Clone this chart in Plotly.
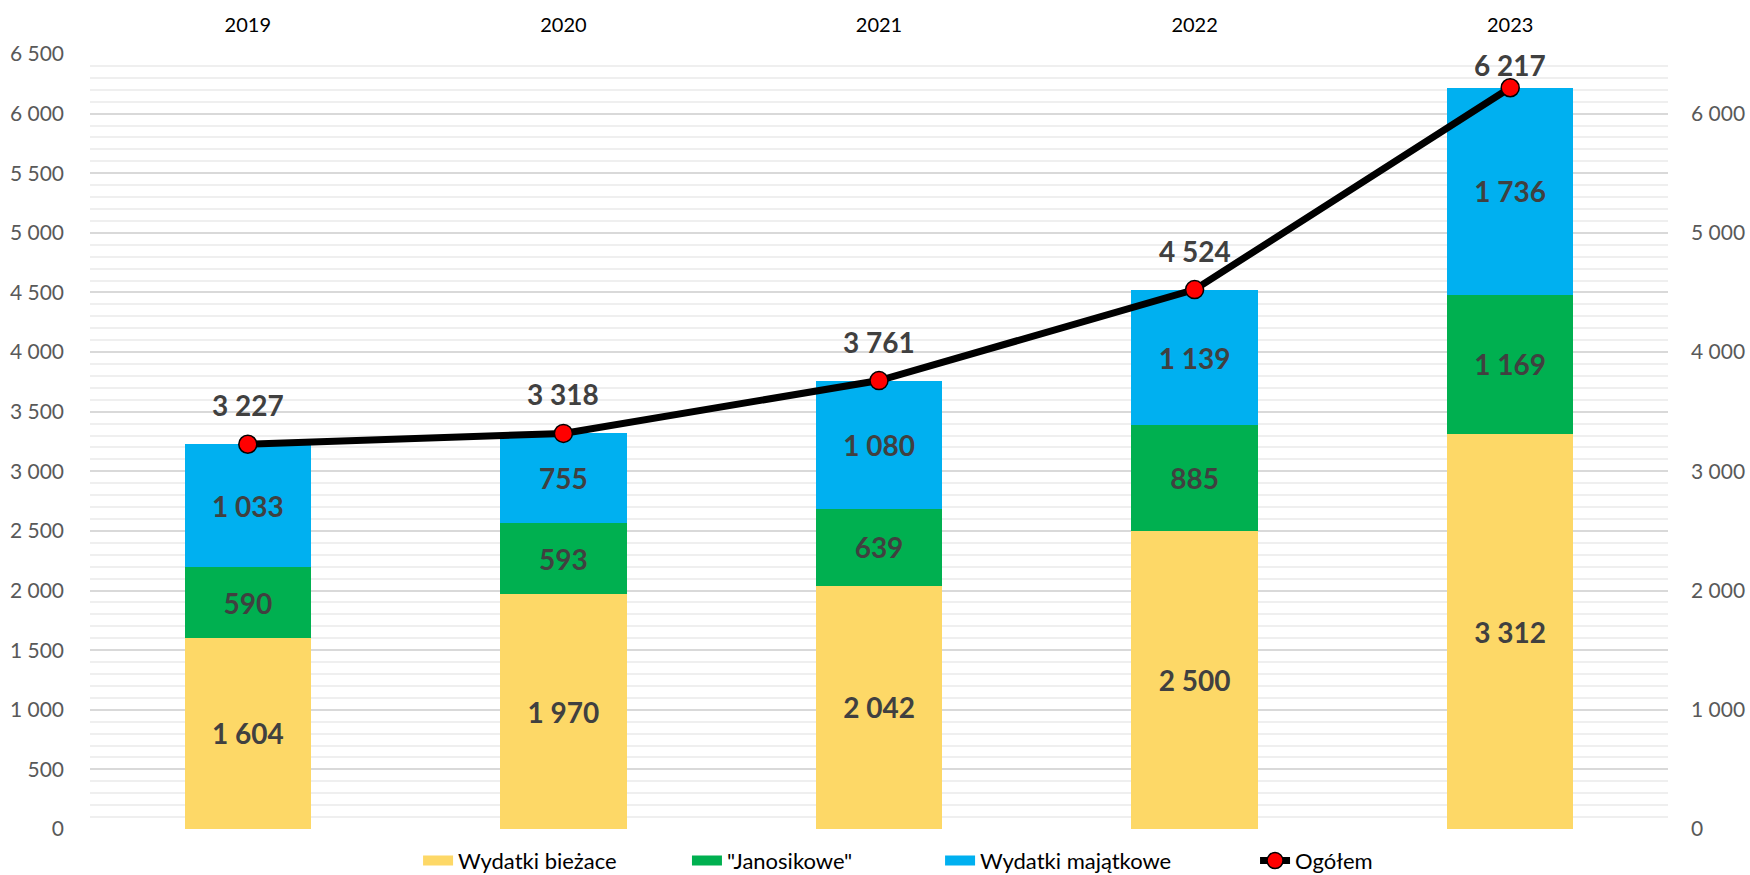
import plotly.graph_objects as go

years = ["2019", "2020", "2021", "2022", "2023"]
biezace = [1604, 1970, 2042, 2500, 3312]
janosikowe = [590, 593, 639, 885, 1169]
majatkowe = [1033, 755, 1080, 1139, 1736]
ogolem = [3227, 3318, 3761, 4524, 6217]

left_ticks = list(range(0, 6501, 500))
right_ticks = list(range(0, 6001, 1000))

FONT = "Lato"
LBL = dict(family=FONT, size=28, color="#404040", weight="bold")
YMAX = 6500
PLOT_H = 775  # plot area height in px

fig = go.Figure()

series = [
    ("Wydatki bieżace", biezace, "#FDD867", "legend"),
    ("\"Janosikowe\"", janosikowe, "#00B050", "legend2"),
    ("Wydatki majątkowe", majatkowe, "#00B0F0", "legend3"),
]

for name, vals, color, _ in series:
    fig.add_trace(go.Bar(
        x=years, y=vals, name=name, showlegend=False,
        marker=dict(color=color, line=dict(width=0)),
        texttemplate="%{y:,}", textposition="inside", insidetextanchor="middle",
        textangle=0, insidetextfont=LBL,
    ))

# legend swatches (wide colour strips like the original)
for name, vals, color, lg in series:
    fig.add_trace(go.Scatter(
        x=[None], y=[None], name=name, mode="lines", legend=lg,
        line=dict(color=color, width=12), hoverinfo="skip",
    ))

fig.add_trace(go.Scatter(
    x=years, y=ogolem, name="Ogółem", yaxis="y2", mode="lines+markers", legend="legend4",
    line=dict(color="black", width=7),
    marker=dict(color="#FF0000", size=18, line=dict(color="black", width=1.5)),
))

for i, v in enumerate(ogolem):
    dist_top = (YMAX - v) * PLOT_H / YMAX
    shift = min(39, dist_top - 11)
    fig.add_annotation(x=i, y=v, xref="x", yref="y2", text=f"{v:,}".replace(",", " "),
                       showarrow=False, yshift=shift, font=LBL)

leg_common = dict(orientation="h", xanchor="left", yanchor="middle", y=-0.041,
                  font=dict(family=FONT, size=22, color="black"),
                  bgcolor="rgba(0,0,0,0)", itemwidth=30)

fig.update_layout(
    width=1750, height=875,
    margin=dict(l=90, r=82, t=54, b=46, autoexpand=False),
    plot_bgcolor="white", paper_bgcolor="white",
    barmode="stack", bargap=0.6,
    separators=", ",
    font=dict(family=FONT, size=21, color="#595959"),
    showlegend=True,
    legend=dict(x=0.2079, **leg_common),
    legend2=dict(x=0.3783, **leg_common),
    legend3=dict(x=0.5387, **leg_common),
    legend4=dict(x=0.7383, **leg_common),
    xaxis=dict(type="category", range=[-0.5, 4.5], side="top",
               tickfont=dict(family=FONT, size=20, color="black"),
               showgrid=False, ticks="", ticklabelstandoff=17, showline=False),
    yaxis=dict(range=[0, YMAX], tickvals=left_ticks, tickformat=",",
               showgrid=True, gridcolor="#D9D9D9", gridwidth=1.5,
               minor=dict(dtick=100, showgrid=True, gridcolor="#EFEFEF", gridwidth=1.5),
               zeroline=False, ticks="", ticklabelstandoff=25,
               tickfont=dict(family=FONT, size=21, color="#595959")),
    yaxis2=dict(range=[0, YMAX], tickvals=right_ticks, tickformat=",",
                overlaying="y", side="right", showgrid=False, zeroline=False,
                ticks="", ticklabelstandoff=22,
                tickfont=dict(family=FONT, size=21, color="#595959")),
)

# remove the default page margin so the 1750x875 figure fills the window exactly
fig.write_html("out.html", config={"displayModeBar": False},
               post_script="document.body.style.margin='0px';document.body.style.overflow='hidden';")
